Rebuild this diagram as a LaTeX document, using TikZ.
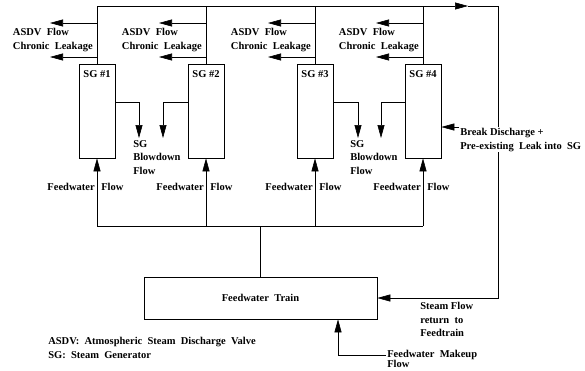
\documentclass[tikz,border=0pt]{standalone}
\usepackage{fontspec}
\setmainfont{Liberation Serif}
\usetikzlibrary{arrows.meta,calc,positioning}

\begin{document}
\begin{tikzpicture}[x=1pt,y=-1pt,>={Triangle[length=13pt,width=7pt]},line width=0.6pt,
  every node/.style={font=\bfseries\fontsize{10.5}{13.5}\selectfont,inner sep=1pt},
  sgbox/.style={draw,minimum width=36pt,minimum height=94pt},
  lbl/.style={align=left}]
\useasboundingbox (0,0) rectangle (585,370);
\coordinate (top) at (0,6); \coordinate (hdr) at (0,226);
\coordinate (mid) at (468,6); \coordinate (ret) at (498,6);
\node[draw,minimum width=233pt,minimum height=42pt] (ft) at (260.5,298) {Feedwater\ \ Train};
\foreach \i/\x in {1/97,2/206,3/315,4/423}{
  \node[sgbox] (sg\i) at (\x,111) {};
  \node[below=6pt of sg\i.north] (sgt\i) {SG \#\i};
  \coordinate (as\i) at (\x-47,23); \coordinate (cl\i) at (\x-47,57);
  \draw (sg\i.north) -- (sg\i.north |- top);
  \draw[->] (sg\i.north |- as\i) -- (as\i);
  \draw[->] (sg\i.north |- cl\i) -- (cl\i);
  \node[lbl,anchor=east] (asdv\i) at (\x-3,40) {ASDV\ \ Flow\\Chronic\ \ Leakage};
  \node[anchor=east] (fwl\i) at (\x-1,187) {Feedwater};
  \node[anchor=west] (fwr\i) at (\x+3,187) {Flow};
  \draw[->] (sg\i.south |- hdr) -- (sg\i.south);
}
\draw (sg1.north |- top) -- (sg4.north |- top);
\draw[->] (sg4.north |- top) -- (mid);
\draw[->] (mid) -- (ret) |- (ft.east);
\draw (sg1.south |- hdr) -- (sg4.south |- hdr);
\draw (ft.north) -- (ft.north |- hdr);
\coordinate (bd1) at (139,138); \coordinate (bd2) at (163,138);
\coordinate (bd3) at (358,138); \coordinate (bd4) at (381,138);
\draw[->] ($(sg1.east)+(0,-9)$) -| (bd1);
\draw[->] ($(sg2.west)+(0,-9)$) -| (bd2);
\draw[->] ($(sg3.east)+(0,-9)$) -| (bd3);
\draw[->] ($(sg4.west)+(0,-9)$) -| (bd4);
\node[lbl,anchor=north west] (bdl12) at (132,139) {SG\\Blowdown\\Flow};
\node[lbl,anchor=north west] (bdl34) at (349,139) {SG\\Blowdown\\Flow};
\node[lbl,anchor=north west,fill=white] (brk) at (459,127) {Break Discharge +\\Pre-existing\ \ Leak into\ \ SG};
\draw[->] (brk.north west) -- (sg4.east |- brk.north west);
\node[lbl,anchor=north west] (sf) at (419,301) {Steam Flow\\return\ \ to\\Feedtrain};
\coordinate (mkx) at (338,0);
\node[anchor=west] (mk) at (386,355) {Feedwater\ \ Makeup};
\node[anchor=north west,inner sep=0pt] (mkf) at ($(mk.south west)+(1,-1.5)$) {Flow};
\draw[->] (mk.west) -| (ft.south -| mkx);
\node[lbl,anchor=north west] (key) at (47,336) {ASDV:\ \ Atmospheric\ \ Steam\ \ Discharge\ \ Valve\\SG:\ \ Steam\ \ Generator};
\end{tikzpicture}
\end{document}
